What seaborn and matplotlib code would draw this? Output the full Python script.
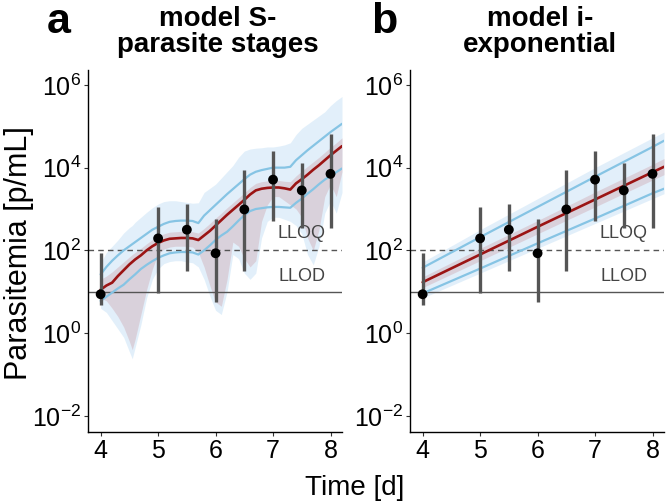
import numpy as np
import seaborn as sns
import matplotlib.pyplot as plt
from matplotlib.ticker import FixedLocator, FuncFormatter

sns.set_theme(style="white")
plt.rcParams['font.family'] = ['Liberation Sans', 'DejaVu Sans']
plt.rcParams['text.color'] = 'black'
plt.rcParams['xtick.color'] = 'black'
plt.rcParams['ytick.color'] = 'black'

# observed parasitemia (log10 p/mL), same in both panels
obs_t = [4, 5, 5.5, 6, 6.5, 7, 7.5, 8]
obs_log = [0.94, 2.29, 2.50, 1.93, 2.99, 3.71, 3.45, 3.85]
obs_lo_log = [0.67, 0.96, 1.49, 0.75, 1.49, 2.70, 2.55, 2.53]
obs_hi_log = [1.93, 3.06, 3.13, 2.75, 3.95, 4.41, 4.10, 4.82]

llod_log = 1.0
lloq_log = 2.02

# panel a: model S - parasite stages (log10 values)
t_a = [4.0, 4.1, 4.2, 4.3, 4.4, 4.5, 4.55, 4.6, 4.7, 4.8, 4.9, 5.0, 5.1, 5.2, 5.3,
       5.4, 5.5, 5.6, 5.7, 5.8, 5.9, 6.0, 6.1, 6.2, 6.3, 6.4, 6.5, 6.6, 6.7, 6.8,
       6.9, 7.0, 7.1, 7.2, 7.3, 7.4, 7.5, 7.6, 7.7, 7.8, 7.9, 8.0, 8.1, 8.2]
med_a = [1.05, 1.15, 1.22, 1.38, 1.52, 1.66, 1.72, 1.78, 1.88, 2.00, 2.10, 2.18, 2.24, 2.28, 2.29,
         2.30, 2.30, 2.29, 2.25, 2.36, 2.47, 2.60, 2.73, 2.86, 2.98, 3.10, 3.22, 3.35, 3.45, 3.49,
         3.51, 3.52, 3.52, 3.50, 3.47, 3.62, 3.72, 3.83, 3.95, 4.06, 4.18, 4.30, 4.41, 4.52]
ci_hi_a = [1.30, 1.38, 1.48, 1.60, 1.72, 1.84, 1.90, 1.95, 2.05, 2.16, 2.26, 2.34, 2.40, 2.44, 2.45,
           2.46, 2.46, 2.45, 2.42, 2.53, 2.65, 2.78, 2.90, 3.03, 3.15, 3.27, 3.39, 3.52, 3.62, 3.66,
           3.68, 3.69, 3.69, 3.67, 3.66, 3.80, 3.92, 4.03, 4.14, 4.25, 4.37, 4.49, 4.60, 4.72]
ci_lo_a = [0.85, 0.78, 0.60, 0.40, 0.15, -0.20, -0.40, -0.15, 0.45, 1.05, 1.55, 1.92, 2.03, 2.08, 2.10,
           2.10, 2.10, 2.08, 1.95, 1.60, 1.15, 0.75, 0.65, 1.30, 2.20, 2.10, 1.80, 1.60, 1.75, 2.70,
           3.10, 3.30, 3.30, 3.20, 3.10, 3.00, 2.80, 2.30, 2.00, 2.50, 3.30, 3.60, 3.30, 3.90]
pi_hi_a = [1.42, 1.60, 1.75, 1.88, 2.00, 2.10, 2.15, 2.20, 2.30, 2.40, 2.50, 2.57, 2.64, 2.69, 2.71,
           2.72, 2.72, 2.71, 2.66, 2.84, 2.97, 3.10, 3.23, 3.36, 3.48, 3.60, 3.72, 3.83, 3.90, 3.94,
           3.97, 4.00, 4.00, 4.00, 4.02, 4.18, 4.30, 4.42, 4.53, 4.64, 4.75, 4.86, 4.96, 5.06]
pi_lo_a = [0.78, 0.88, 0.98, 1.08, 1.17, 1.30, 1.36, 1.42, 1.55, 1.65, 1.74, 1.82, 1.88, 1.93, 1.95,
           1.96, 1.96, 1.95, 1.90, 2.00, 2.12, 2.25, 2.36, 2.45, 2.58, 2.72, 2.85, 2.95, 3.00, 3.02,
           3.04, 3.05, 3.05, 3.04, 3.03, 3.15, 3.25, 3.37, 3.48, 3.60, 3.71, 3.80, 3.89, 3.98]
pib_hi_a = [1.70, 1.95, 2.10, 2.25, 2.42, 2.55, 2.60, 2.68, 2.80, 2.92, 3.03, 3.12, 3.18, 3.20, 3.20,
            3.18, 3.16, 3.14, 3.15, 3.40, 3.50, 3.60, 3.75, 3.90, 4.05, 4.25, 4.40, 4.45, 4.47, 4.48,
            4.50, 4.50, 4.52, 4.55, 4.60, 4.80, 4.95, 5.05, 5.15, 5.25, 5.35, 5.50, 5.62, 5.72]
pib_lo_a = [0.60, 0.50, 0.30, 0.10, -0.10, -0.45, -0.62, -0.35, 0.20, 0.85, 1.30, 1.55, 1.68, 1.73, 1.75,
            1.75, 1.72, 1.70, 1.60, 1.30, 0.90, 0.55, 0.45, 1.00, 1.90, 1.80, 1.45, 1.30, 1.45, 2.30,
            2.70, 2.80, 2.80, 2.75, 2.70, 2.60, 2.40, 1.90, 1.65, 2.10, 2.90, 3.20, 2.90, 3.40]

# panel b: model i - exponential
t_b = [4.0, 5.0, 6.0, 7.0, 8.0, 8.2]
med_b = [1.23, 1.90, 2.57, 3.23, 3.89, 4.02]
ci_hi_b = [1.36, 2.05, 2.72, 3.41, 4.08, 4.22]
ci_lo_b = [1.10, 1.75, 2.40, 3.05, 3.70, 3.83]
pi_hi_b = [1.58, 2.32, 3.05, 3.78, 4.50, 4.65]
pi_lo_b = [0.96, 1.56, 2.17, 2.77, 3.38, 3.49]
pib_hi_b = [1.72, 2.50, 3.25, 4.00, 4.72, 4.86]
pib_lo_b = [0.85, 1.45, 2.05, 2.65, 3.25, 3.37]

RED = '#9b1414'
BLUE = '#86c4e4'
GREY = '#555555'


def pw(v):
    return 10 ** np.asarray(v, dtype=float)


def draw_panel(ax, t, med, ci_lo, ci_hi, pi_lo, pi_hi, pib_lo, pib_hi):
    ax.set_yscale('log')
    ax.fill_between(t, pw(pib_lo), pw(pib_hi), color='#dbecf9', alpha=0.8, lw=0, zorder=1)
    ax.fill_between(t, pw(ci_lo), pw(ci_hi), color='#c9939c', alpha=0.32, lw=0, zorder=2)
    sns.lineplot(x=t, y=pw(pi_hi), ax=ax, color=BLUE, lw=1.6, zorder=3)
    sns.lineplot(x=t, y=pw(pi_lo), ax=ax, color=BLUE, lw=1.6, zorder=3)
    sns.lineplot(x=t, y=pw(med), ax=ax, color=RED, lw=1.9, zorder=4)

    ax.axhline(10 ** lloq_log, color=GREY, lw=1.0, ls=(0, (4, 3)), zorder=2.5)
    ax.axhline(10 ** llod_log, color=GREY, lw=1.0, zorder=2.5)
    ax.text(7.5, 10 ** 2.42, 'LLOQ', ha='center', va='center', fontsize=13, color='#444444')
    ax.text(7.5, 10 ** 1.36, 'LLOD', ha='center', va='center', fontsize=13, color='#444444')

    ax.vlines(obs_t, pw(obs_lo_log), pw(obs_hi_log), color=GREY, lw=2.4, zorder=5)
    sns.scatterplot(x=obs_t, y=pw(obs_log), ax=ax, color='black', s=50,
                    edgecolor='none', zorder=6)

    ax.set_xlim(3.78, 8.2)
    ax.set_ylim(10 ** -2.39, 10 ** 6.36)
    ax.xaxis.set_major_locator(FixedLocator([4, 5, 6, 7, 8]))
    ax.yaxis.set_major_locator(FixedLocator([1e-2, 1e0, 1e2, 1e4, 1e6]))
    ax.yaxis.set_minor_locator(FixedLocator([]))
    ax.yaxis.set_major_formatter(FuncFormatter(
        lambda v, p: r'$\mathregular{10^{%d}}$' % round(np.log10(v))))
    ax.tick_params(axis='both', labelsize=18, length=3, width=0.8, color='#333333',
                   pad=2, direction='out', bottom=True, left=True)
    ax.set_xlabel('')
    ax.set_ylabel('')
    sns.despine(ax=ax)
    for s in ['left', 'bottom']:
        ax.spines[s].set_color('black')
        ax.spines[s].set_linewidth(1.0)


fig = plt.figure(figsize=(6.66, 5.03), dpi=100)
axA = fig.add_axes([88 / 666, 71 / 503, 254 / 666, 362 / 503])
axB = fig.add_axes([410 / 666, 71 / 503, 254 / 666, 362 / 503])

draw_panel(axA, t_a, med_a, ci_lo_a, ci_hi_a, pi_lo_a, pi_hi_a, pib_lo_a, pib_hi_a)
draw_panel(axB, t_b, med_b, ci_lo_b, ci_hi_b, pi_lo_b, pi_hi_b, pib_lo_b, pib_hi_b)

fig.text(218 / 666, 1 - 32 / 503, 'model S-\nparasite stages', ha='center', va='center',
         fontsize=20, fontweight='bold', linespacing=0.95)
fig.text(540 / 666, 1 - 32 / 503, 'model i-\nexponential', ha='center', va='center',
         fontsize=20, fontweight='bold', linespacing=0.95)
fig.text(59 / 666, 1 - 22 / 503, 'a', ha='center', va='center', fontsize=31,
         fontweight='bold')
fig.text(384 / 666, 1 - 22 / 503, 'b', ha='center', va='center', fontsize=31,
         fontweight='bold')

fig.text(19 / 666, 250 / 503, 'Parasitemia [p/mL]', rotation=90, ha='center', va='center',
         fontsize=22)
fig.text(355 / 666, 1 - 488 / 503, 'Time [d]', ha='center', va='center', fontsize=20)

fig.savefig('out.png', dpi=100)
